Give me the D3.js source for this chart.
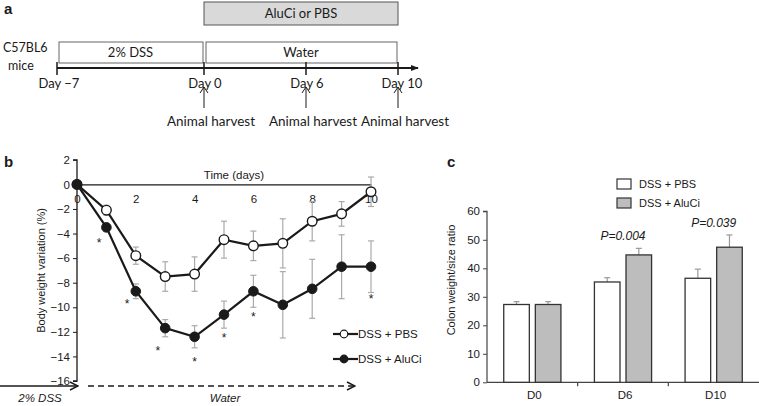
<!DOCTYPE html>
<html><head><meta charset="utf-8">
<script src="https://cdn.jsdelivr.net/npm/d3@7"></script>
<style>
body{margin:0;background:#fff;}
svg{display:block;}
</style></head>
<body>
<script>
// ---------- DATA ----------
// Panel a: timeline
const timelineDays = [-7, 0, 6, 10];
const timelineLabels = ["Day \u22127", "Day 0", "Day 6", "Day 10"];
const harvestDays = [0, 6, 10];
const harvestLabel = "Animal harvest";
const phases = [
  {label: "2% DSS", start: -7, end: 0},
  {label: "Water", start: 0, end: 10}
];
const treatment = {label: "AluCi or PBS", start: 0, end: 10};

// Panel b: body weight variation
const days = [0,1,2,3,4,5,6,7,8,9,10];
const pbsMean = [0, -2.1, -5.8, -7.5, -7.3, -4.5, -5.0, -4.8, -3.0, -2.4, -0.6];
const pbsErr  = [0, 0.4, 0.7, 1.2, 1.4, 1.5, 1.2, 2.0, 1.6, 1.0, 1.2];
const aluMean = [0, -3.5, -8.7, -11.7, -12.4, -10.6, -8.7, -9.8, -8.5, -6.7, -6.7];
const aluErr  = [0, 0.3, 0.6, 0.7, 0.9, 1.1, 1.3, 2.7, 2.4, 2.6, 2.1];
const starDays = [0.75, 1.7, 2.75, 4.0, 5.0, 6.0, 10.0];
const starVals = [-4.6, -9.6, -13.4, -14.3, -12.3, -10.6, -9.2];
const bYTicks = [2, 0, -2, -4, -6, -8, -10, -12, -14, -16];
const bXTicks = [0, 2, 4, 6, 8, 10];
const seriesNames = ["DSS + PBS", "DSS + AluCi"];

// Panel c: colon weight/size ratio
const cCategories = ["D0", "D6", "D10"];
const cPbs = [27.3, 35.2, 36.5];
const cPbsErr = [1.0, 1.5, 3.2];
const cAlu = [27.3, 44.7, 47.4];
const cAluErr = [1.0, 2.3, 4.3];
const cPvalues = ["", "P=0.004", "P=0.039"];
const cYTicks = [0, 10, 20, 30, 40, 50, 60];

// ---------- DRAW ----------
const W = 759, H = 406;
const svg = d3.select("body").append("svg").attr("width", W).attr("height", H);
const ink = "#1a1a1a";
const fontA = "Lato, 'Open Sans', sans-serif";
const fontB = "Arial, 'Liberation Sans', Helvetica, sans-serif";

// ===== Panel a =====
const ga = svg.append("g");
ga.append("text").attr("x", 4).attr("y", 14).attr("font-family", fontB)
  .attr("font-weight", "bold").attr("font-size", 15).attr("fill", ink).text("a");
const xa = d3.scaleLinear().domain(timelineDays).range([57, 204, 306, 398]);
const lineY = 68;
// treatment box
ga.append("rect").attr("x", xa(treatment.start)).attr("y", 2)
  .attr("width", xa(treatment.end) - xa(treatment.start)).attr("height", 23)
  .attr("fill", "#d9d9d9").attr("stroke", "#555").attr("stroke-width", 1);
ga.append("text").attr("x", (xa(treatment.start) + xa(treatment.end)) / 2).attr("y", 18)
  .attr("text-anchor", "middle").attr("font-family", fontA).attr("font-size", 13).attr("fill", ink)
  .text(treatment.label);
// phase boxes
phases.forEach(p => {
  ga.append("rect").attr("x", xa(p.start) + 2).attr("y", 42)
    .attr("width", xa(p.end) - xa(p.start) - 3).attr("height", 21)
    .attr("fill", "#fff").attr("stroke", "#666").attr("stroke-width", 1);
  ga.append("text").attr("x", (xa(p.start) + xa(p.end)) / 2).attr("y", 57)
    .attr("text-anchor", "middle").attr("font-family", fontA).attr("font-size", 13).attr("fill", ink)
    .text(p.label);
});
ga.append("text").attr("x", 3).attr("y", 52).attr("font-family", fontA).attr("font-size", 12.5).attr("fill", ink).text("C57BL6");
ga.append("text").attr("x", 8).attr("y", 70).attr("font-family", fontA).attr("font-size", 12.5).attr("fill", ink).text("mice");
// timeline
svg.append("defs").append("marker").attr("id", "arrowA").attr("viewBox", "0 0 10 10")
  .attr("refX", 9).attr("refY", 5).attr("markerWidth", 8).attr("markerHeight", 8)
  .attr("orient", "auto").attr("markerUnits", "userSpaceOnUse")
  .append("path").attr("d", "M0,1 L10,5 L0,9 Z").attr("fill", ink);
ga.append("line").attr("x1", xa(-7)).attr("x2", 418).attr("y1", lineY).attr("y2", lineY)
  .attr("stroke", ink).attr("stroke-width", 2).attr("marker-end", "url(#arrowA)");
timelineDays.forEach((d, i) => {
  ga.append("line").attr("x1", xa(d)).attr("x2", xa(d)).attr("y1", lineY - 6).attr("y2", lineY + 7)
    .attr("stroke", ink).attr("stroke-width", 1.5);
  ga.append("text").attr("x", xa(d) + (i === 3 ? 4 : (i === 0 ? 2 : 1))).attr("y", 88).attr("text-anchor", "middle")
    .attr("font-family", fontA).attr("font-size", 13).attr("fill", ink).text(timelineLabels[i]);
});
harvestDays.forEach((d, i) => {
  const x = xa(d);
  ga.append("line").attr("x1", x).attr("x2", x).attr("y1", 108).attr("y2", 87)
    .attr("stroke", ink).attr("stroke-width", 1);
  ga.append("path").attr("d", `M${x - 4},${93} L${x},${87} L${x + 4},${93}`)
    .attr("fill", "none").attr("stroke", ink).attr("stroke-width", 1);
  ga.append("text").attr("x", x + 7).attr("y", 126).attr("text-anchor", "middle")
    .attr("font-family", fontA).attr("font-size", 13.5).attr("fill", ink).text(harvestLabel);
});

// ===== Panel b =====
const gb = svg.append("g");
gb.append("text").attr("x", 4).attr("y", 167).attr("font-family", fontB)
  .attr("font-weight", "bold").attr("font-size", 15).attr("fill", ink).text("b");
const xb = d3.scaleLinear().domain([0, 10]).range([77, 371]);
const yb = d3.scaleLinear().domain([-16, 2]).range([381, 159.8]);
// y axis
const yAxisB = d3.axisLeft(yb).tickValues(bYTicks).tickSize(4)
  .tickFormat(d => String(d).replace("-", "\u2212"));
const gya = gb.append("g").attr("transform", `translate(${xb(0)},0)`).call(yAxisB);
gya.select(".domain").attr("stroke", ink).attr("stroke-width", 1.3).attr("d", `M-4,${yb(2)}H0V${yb(-16)}H-4`);
gya.selectAll(".tick line").attr("stroke", ink);
gya.selectAll(".tick text").attr("font-family", fontB).attr("font-size", 11.5).attr("fill", ink);
// x axis at y=0
const xAxisB = d3.axisBottom(xb).tickValues(bXTicks).tickSize(0).tickPadding(10);
const gxa = gb.append("g").attr("transform", `translate(0,${yb(0)})`).call(xAxisB);
gxa.select(".domain").attr("stroke", ink).attr("stroke-width", 1.3);
gxa.selectAll(".tick text").attr("font-family", fontB).attr("font-size", 11.5).attr("fill", ink);
gb.append("text").attr("x", 234).attr("y", yb(0) - 5).attr("text-anchor", "middle")
  .attr("font-family", fontB).attr("font-size", 11.5).attr("fill", ink).text("Time (days)");
gb.append("text").attr("transform", `translate(45,${yb(-7)}) rotate(-90)`).attr("text-anchor", "middle")
  .attr("font-family", fontB).attr("font-size", 11).attr("fill", ink).text("Body weight variation (%)");
// error bars
function errBars(mean, err) {
  days.forEach((d, i) => {
    if (!err[i]) return;
    const x = xb(d), y1 = yb(mean[i] + err[i]), y2 = yb(mean[i] - err[i]);
    gb.append("line").attr("x1", x).attr("x2", x).attr("y1", y1).attr("y2", y2).attr("stroke", "#aaa").attr("stroke-width", 1.2);
    [y1, y2].forEach(y => gb.append("line").attr("x1", x - 3).attr("x2", x + 3).attr("y1", y).attr("y2", y).attr("stroke", "#aaa").attr("stroke-width", 1.2));
  });
}
errBars(pbsMean, pbsErr);
errBars(aluMean, aluErr);
const lineGen = d3.line().x((d, i) => xb(days[i])).y(d => yb(d));
gb.append("path").datum(pbsMean).attr("d", lineGen).attr("fill", "none").attr("stroke", ink).attr("stroke-width", 2.2);
gb.append("path").datum(aluMean).attr("d", lineGen).attr("fill", "none").attr("stroke", ink).attr("stroke-width", 2.2);
gb.selectAll(".ptP").data(pbsMean).join("circle").attr("cx", (d, i) => xb(days[i])).attr("cy", d => yb(d))
  .attr("r", 4.8).attr("fill", "#fff").attr("stroke", ink).attr("stroke-width", 1.4);
gb.selectAll(".ptA").data(aluMean).join("circle").attr("cx", (d, i) => xb(days[i])).attr("cy", d => yb(d))
  .attr("r", 4.8).attr("fill", ink).attr("stroke", ink).attr("stroke-width", 1);
// asterisks
starDays.forEach((d, i) => {
  gb.append("text").attr("x", xb(d)).attr("y", yb(starVals[i]) + 6).attr("text-anchor", "middle")
    .attr("font-family", fontB).attr("font-size", 12).attr("fill", ink).text("*");
});
// legend
[[seriesNames[0], "#fff", 334], [seriesNames[1], ink, 359]].forEach(([name, fill, y]) => {
  gb.append("line").attr("x1", 333).attr("x2", 358).attr("y1", y).attr("y2", y).attr("stroke", ink).attr("stroke-width", 2.2);
  gb.append("circle").attr("cx", 344).attr("cy", y).attr("r", 3.8).attr("fill", fill).attr("stroke", ink).attr("stroke-width", 1.2);
  gb.append("text").attr("x", 358).attr("y", y + 4).attr("font-family", fontB).attr("font-size", 11.5).attr("fill", ink).text(name);
});
// bottom arrows
svg.append("defs").append("marker").attr("id", "arrowOpen").attr("viewBox", "0 0 10 10")
  .attr("refX", 9).attr("refY", 5).attr("markerWidth", 10).attr("markerHeight", 10)
  .attr("orient", "auto").attr("markerUnits", "userSpaceOnUse")
  .append("path").attr("d", "M1,1 L9,5 L1,9").attr("fill", "none").attr("stroke", ink).attr("stroke-width", 1.4);
gb.append("line").attr("x1", 0).attr("x2", 78).attr("y1", 386).attr("y2", 386)
  .attr("stroke", ink).attr("stroke-width", 1.5).attr("marker-end", "url(#arrowOpen)");
gb.append("line").attr("x1", 88).attr("x2", 355).attr("y1", 386).attr("y2", 386)
  .attr("stroke", ink).attr("stroke-width", 1.5).attr("stroke-dasharray", "6,4").attr("marker-end", "url(#arrowOpen)");
gb.append("text").attr("x", 40).attr("y", 402).attr("text-anchor", "middle").attr("font-style", "italic")
  .attr("font-family", fontB).attr("font-size", 11.5).attr("fill", ink).text("2% DSS");
gb.append("text").attr("x", 225).attr("y", 402).attr("text-anchor", "middle").attr("font-style", "italic")
  .attr("font-family", fontB).attr("font-size", 11.5).attr("fill", ink).text("Water");

// ===== Panel c =====
const gc = svg.append("g");
gc.append("text").attr("x", 447).attr("y", 167).attr("font-family", fontB)
  .attr("font-weight", "bold").attr("font-size", 15).attr("fill", ink).text("c");
const xc = d3.scaleBand().domain(cCategories).range([487, 759]);
const xcInner = d3.scaleBand().domain(["PBS", "AluCi"]).range([0, xc.bandwidth()]).paddingInner(0.19).paddingOuter(0.53);
const yc = d3.scaleLinear().domain([0, 60]).range([382.3, 211.3]);
const gyc = gc.append("g").attr("transform", `translate(487,0)`).call(d3.axisLeft(yc).tickValues(cYTicks).tickSize(4));
gyc.select(".domain").attr("stroke", "#444").attr("stroke-width", 1.2).attr("d", `M-4,${yc(60)}H0V${yc(0)}`);
gyc.selectAll(".tick line").attr("stroke", "#444");
gyc.selectAll(".tick text").attr("font-family", fontB).attr("font-size", 11.5).attr("fill", ink);
// x axis
gc.append("line").attr("x1", 487).attr("x2", 759).attr("y1", yc(0)).attr("y2", yc(0)).attr("stroke", "#444").attr("stroke-width", 1.2);
cCategories.slice(1).forEach(c => {
  gc.append("line").attr("x1", xc(c)).attr("x2", xc(c)).attr("y1", yc(0)).attr("y2", yc(0) + 4).attr("stroke", "#444").attr("stroke-width", 1.2);
});
cCategories.forEach(c => {
  gc.append("text").attr("x", xc(c) + xc.bandwidth() / 2 + 2).attr("y", yc(0) + 17).attr("text-anchor", "middle")
    .attr("font-family", fontB).attr("font-size", 11.5).attr("fill", ink).text(c);
});
gc.append("text").attr("transform", `translate(455,280) rotate(-90)`).attr("text-anchor", "middle")
  .attr("font-family", fontB).attr("font-size", 11).attr("fill", ink).text("Colon weight/size ratio");
function drawBars(vals, errs, key, fill) {
  cCategories.forEach((c, i) => {
    const x = xc(c) + xcInner(key), w = xcInner.bandwidth();
    const cx = x + w / 2;
    gc.append("line").attr("x1", cx).attr("x2", cx).attr("y1", yc(vals[i])).attr("y2", yc(vals[i] + errs[i])).attr("stroke", "#999").attr("stroke-width", 1.2);
    gc.append("line").attr("x1", cx - 3).attr("x2", cx + 3).attr("y1", yc(vals[i] + errs[i])).attr("y2", yc(vals[i] + errs[i])).attr("stroke", "#999").attr("stroke-width", 1.2);
    gc.append("rect").attr("x", x).attr("y", yc(vals[i])).attr("width", w).attr("height", yc(0) - yc(vals[i]))
      .attr("fill", fill).attr("stroke", "#333").attr("stroke-width", 1.3);
  });
}
drawBars(cPbs, cPbsErr, "PBS", "#fff");
drawBars(cAlu, cAluErr, "AluCi", "#bdbdbd");
cCategories.forEach((c, i) => {
  if (!cPvalues[i]) return;
  const top = Math.max(cPbs[i] + cPbsErr[i], cAlu[i] + cAluErr[i]);
  gc.append("text").attr("x", xc(c) + xc.bandwidth() / 2).attr("y", yc(top) - 8).attr("text-anchor", "middle")
    .attr("font-family", fontB).attr("font-style", "italic").attr("font-size", 12).attr("fill", ink).text(cPvalues[i]);
});
// legend
[[seriesNames[0], "#fff", 179], [seriesNames[1], "#bdbdbd", 198]].forEach(([name, fill, y]) => {
  gc.append("rect").attr("x", 617).attr("y", y).attr("width", 14).attr("height", 10).attr("fill", fill).attr("stroke", "#333").attr("stroke-width", 1.2);
  gc.append("text").attr("x", 639).attr("y", y + 9).attr("font-family", fontB).attr("font-size", 11).attr("fill", ink).text(name);
});
</script>
</body></html>
